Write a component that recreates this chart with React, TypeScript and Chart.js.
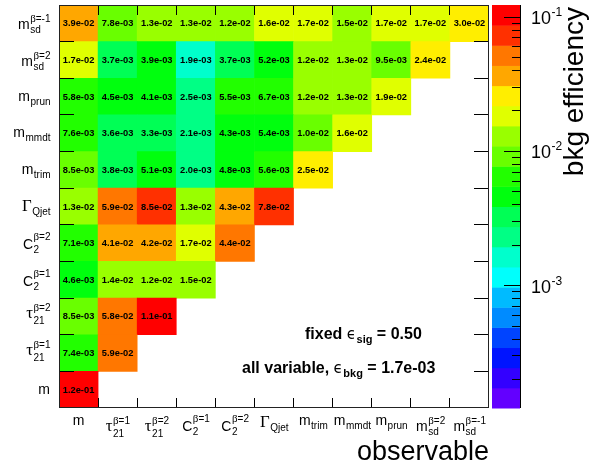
import React, { useEffect, useRef } from 'react';
import { Chart, registerables } from 'chart.js';

Chart.register(...registerables);

type Label = { base: string; sub?: string; sup?: string };

// observables (same order on both axes: x left->right, y bottom->top)
const OBSERVABLE_KEYS = ['m', 'tau21_b1', 'tau21_b2', 'C2_b1', 'C2_b2', 'GammaQjet', 'm_trim', 'm_mmdt', 'm_prun', 'm_sd_b2', 'm_sd_bm1'];
const OBSERVABLE_LABELS: Label[] = [
  { base: 'm' },
  { base: 'τ', sub: '21', sup: 'β=1' },
  { base: 'τ', sub: '21', sup: 'β=2' },
  { base: 'C', sub: '2', sup: 'β=1' },
  { base: 'C', sub: '2', sup: 'β=2' },
  { base: 'Γ', sub: 'Qjet' },
  { base: 'm', sub: 'trim' },
  { base: 'm', sub: 'mmdt' },
  { base: 'm', sub: 'prun' },
  { base: 'm', sub: 'sd', sup: 'β=2' },
  { base: 'm', sub: 'sd', sup: 'β=-1' },
];

// background efficiency, one array per row (y observable), columns 0..row
const EFF_M = [1.2e-1];
const EFF_TAU21_B1 = [7.4e-3, 5.9e-2];
const EFF_TAU21_B2 = [8.5e-3, 5.8e-2, 1.1e-1];
const EFF_C2_B1 = [4.6e-3, 1.4e-2, 1.2e-2, 1.5e-2];
const EFF_C2_B2 = [7.1e-3, 4.1e-2, 4.2e-2, 1.7e-2, 4.4e-2];
const EFF_GAMMA_QJET = [1.3e-2, 5.9e-2, 8.5e-2, 1.3e-2, 4.3e-2, 7.8e-2];
const EFF_M_TRIM = [8.5e-3, 3.8e-3, 5.1e-3, 2.0e-3, 4.8e-3, 5.6e-3, 2.5e-2];
const EFF_M_MMDT = [7.6e-3, 3.6e-3, 3.3e-3, 2.1e-3, 4.3e-3, 5.4e-3, 1.0e-2, 1.6e-2];
const EFF_M_PRUN = [5.8e-3, 4.5e-3, 4.1e-3, 2.5e-3, 5.5e-3, 6.7e-3, 1.2e-2, 1.3e-2, 1.9e-2];
const EFF_M_SD_B2 = [1.7e-2, 3.7e-3, 3.9e-3, 1.9e-3, 3.7e-3, 5.2e-3, 1.2e-2, 1.3e-2, 9.5e-3, 2.4e-2];
const EFF_M_SD_BM1 = [3.9e-2, 7.8e-3, 1.3e-2, 1.3e-2, 1.2e-2, 1.6e-2, 1.7e-2, 1.5e-2, 1.7e-2, 1.7e-2, 3.0e-2];

const ROWS = [EFF_M, EFF_TAU21_B1, EFF_TAU21_B2, EFF_C2_B1, EFF_C2_B2, EFF_GAMMA_QJET, EFF_M_TRIM, EFF_M_MMDT, EFF_M_PRUN, EFF_M_SD_B2, EFF_M_SD_BM1];

// colour scale
const Z_MAX = 0.123;
const Z_MIN = 1.23e-4;
const COLOR_TICKS = [1e-3, 1e-2, 1e-1];
const PALETTE = [
  'rgb(99,0,255)', 'rgb(51,0,255)', 'rgb(0,20,255)', 'rgb(0,68,255)', 'rgb(0,139,255)',
  'rgb(0,187,255)', 'rgb(0,255,252)', 'rgb(0,255,204)', 'rgb(0,255,133)', 'rgb(0,255,85)',
  'rgb(0,255,14)', 'rgb(34,255,0)', 'rgb(105,255,0)', 'rgb(153,255,0)', 'rgb(224,255,0)',
  'rgb(255,238,0)', 'rgb(255,167,0)', 'rgb(255,119,0)', 'rgb(255,48,0)', 'rgb(255,0,0)',
];

const X_TITLE = 'observable';
const Z_TITLE = 'bkg efficiency';
const SIG_EFF = '0.50';
const ALL_BKG_EFF = '1.7e-03';

const SANS = '"Liberation Sans", Arial, Helvetica, sans-serif';
const SERIF = '"Liberation Serif", "DejaVu Serif", serif';

function levelIndex(v: number) {
  const lmin = Math.log10(Z_MIN);
  const lmax = Math.log10(Z_MAX);
  const k = Math.floor(((Math.log10(v) - lmin) / (lmax - lmin)) * PALETTE.length);
  return Math.max(0, Math.min(PALETTE.length - 1, k));
}
const colorFor = (v: number) => PALETTE[levelIndex(v)];

function fmtExp(v: number) {
  const [m, e] = v.toExponential(1).split('e');
  const n = parseInt(e, 10);
  return `${m}e${n < 0 ? '-' : '+'}${String(Math.abs(n)).padStart(2, '0')}`;
}

function segs(text: string) {
  const out: { t: string; g: boolean }[] = [];
  for (const ch of text) {
    const g = /[\u0370-\u03FF]/.test(ch);
    if (out.length && out[out.length - 1].g === g) out[out.length - 1].t += ch;
    else out.push({ t: ch, g });
  }
  return out;
}
function fontStr(size: number, bold: boolean, greek: boolean) {
  return `${bold ? 'bold ' : ''}${size}px ${greek ? SERIF : SANS}`;
}
function measureMixed(ctx: CanvasRenderingContext2D, text: string, size: number, bold = false, gs = 1.1) {
  let w = 0;
  for (const s of segs(text)) {
    ctx.font = fontStr(s.g ? size * gs : size, s.g ? false : bold, s.g);
    w += ctx.measureText(s.t).width;
  }
  return w;
}
function drawMixed(ctx: CanvasRenderingContext2D, text: string, x: number, y: number, size: number, bold = false, gs = 1.1) {
  let cx = x;
  for (const s of segs(text)) {
    ctx.font = fontStr(s.g ? size * gs : size, s.g ? false : bold, s.g);
    ctx.fillText(s.t, cx, y);
    cx += ctx.measureText(s.t).width;
  }
  return cx - x;
}

const MAIN = 14;
const SMALL = 10;

function labelWidth(ctx: CanvasRenderingContext2D, l: Label) {
  const bw = measureMixed(ctx, l.base, MAIN, false, 1.2);
  const sw = l.sub ? measureMixed(ctx, l.sub, SMALL) : 0;
  const pw = l.sup ? measureMixed(ctx, l.sup, SMALL) : 0;
  return { bw, w: bw + Math.max(sw, pw) };
}
function drawLabel(ctx: CanvasRenderingContext2D, l: Label, x: number, baseline: number) {
  const bw = drawMixed(ctx, l.base, x, baseline, MAIN, false, 1.2);
  const cap = l.base === 'C' || l.base === 'Γ';
  const isTau = l.base === 'τ';
  if (l.sup) drawMixed(ctx, l.sup, x + bw + 0.5, baseline + (cap ? -9 : -7), SMALL);
  if (l.sub) drawMixed(ctx, l.sub, x + bw + 0.5, baseline + (isTau ? 6 : 4), SMALL);
}

const overlay = {
  id: 'overlay',
  afterDatasetsDraw(chart: any) {
    const ctx: CanvasRenderingContext2D = chart.ctx;
    const area = chart.chartArea;
    const xs = chart.scales.x;
    const ys = chart.scales.y;
    const zs = chart.scales.z;
    const n = OBSERVABLE_KEYS.length;
    ctx.save();

    // cell values
    ctx.fillStyle = '#000';
    ctx.textAlign = 'center';
    ctx.textBaseline = 'middle';
    ctx.font = `bold 9.3px ${SANS}`;
    chart.data.datasets.forEach((ds: any, i: number) => {
      const meta = chart.getDatasetMeta(i);
      meta.data.forEach((el: any, j: number) => {
        const p = el.getCenterPoint();
        ctx.fillText(fmtExp(ds.data[j].v), p.x, p.y + 0.5);
      });
    });

    // frame and ticks
    const colEdge = (c: number) =>
      c <= 0 ? area.left : c >= n ? area.right : (xs.getPixelForValue(c - 1) + xs.getPixelForValue(c)) / 2;
    ctx.strokeStyle = '#000';
    ctx.lineWidth = 1;
    ctx.beginPath();
    for (let c = 1; c < n; c++) {
      const X = Math.floor(colEdge(c)) + 0.5;
      ctx.moveTo(X, area.bottom);
      ctx.lineTo(X, area.bottom - 10);
      ctx.moveTo(X, area.top);
      ctx.lineTo(X, area.top + 10);
    }
    for (let r = 1; r < n; r++) {
      const Y = Math.floor(ys.getPixelForValue(r)) + 0.5;
      ctx.moveTo(area.left, Y);
      ctx.lineTo(area.left + 15, Y);
      ctx.moveTo(area.right, Y);
      ctx.lineTo(area.right - 15, Y);
    }
    ctx.stroke();
    ctx.strokeStyle = '#222';
    ctx.strokeRect(area.left + 0.5, area.top + 0.5, area.right - area.left - 1, area.bottom - area.top - 1);

    // axis labels
    ctx.fillStyle = '#000';
    ctx.textAlign = 'left';
    ctx.textBaseline = 'alphabetic';
    OBSERVABLE_LABELS.forEach((l, i) => {
      const { w } = labelWidth(ctx, l);
      const cx = xs.getPixelForValue(i);
      const xb = area.bottom + (l.sup ? 23 : l.base === 'Γ' ? 19 : 17);
      drawLabel(ctx, l, cx - w / 2, xb);
      const cy = (ys.getPixelForValue(i) + ys.getPixelForValue(i + 1)) / 2;
      const yb = cy + (l.base === 'τ' ? 2 : l.sup ? 6 : 4);
      drawLabel(ctx, l, area.left - 9 - w, yb);
    });

    // colour bar
    const bx0 = area.right + 3;
    const bx1 = area.right + 31;
    const lmin = Math.log10(Z_MIN);
    const lmax = Math.log10(Z_MAX);
    PALETTE.forEach((col, k) => {
      const v0 = Math.pow(10, lmin + ((lmax - lmin) * k) / PALETTE.length);
      const v1 = Math.pow(10, lmin + ((lmax - lmin) * (k + 1)) / PALETTE.length);
      const y0 = zs.getPixelForValue(v0);
      const y1 = zs.getPixelForValue(v1);
      ctx.fillStyle = col;
      ctx.fillRect(bx0, y1, bx1 - bx0, y0 - y1 + 0.5);
    });
    ctx.strokeStyle = '#000';
    ctx.beginPath();
    ctx.moveTo(bx1 + 0.5, area.top);
    ctx.lineTo(bx1 + 0.5, area.bottom);
    for (let d = Math.floor(lmin); d <= Math.ceil(lmax); d++) {
      for (let m = 1; m <= 9; m++) {
        const v = m * Math.pow(10, d);
        if (v < Z_MIN || v > Z_MAX) continue;
        const Y = Math.floor(zs.getPixelForValue(v)) + 0.5;
        ctx.moveTo(bx1, Y);
        ctx.lineTo(bx1 - (m === 1 ? 16 : 8), Y);
      }
    }
    ctx.stroke();
    ctx.fillStyle = '#000';
    COLOR_TICKS.forEach((t) => {
      const Y = zs.getPixelForValue(t);
      const e = Math.round(Math.log10(t));
      ctx.font = `18px ${SANS}`;
      ctx.fillText('10', bx1 + 11, Y + 7);
      const w10 = ctx.measureText('10').width;
      ctx.font = `12px ${SANS}`;
      ctx.fillText(String(e), bx1 + 11 + w10 + 0.5, Y - 1);
    });

    // titles
    ctx.font = `27px ${SANS}`;
    ctx.textAlign = 'right';
    ctx.fillText(X_TITLE, area.right, area.bottom + 52);
    ctx.save();
    ctx.font = `28px ${SANS}`;
    ctx.translate(bx1 + 63, area.top + 2);
    ctx.rotate(-Math.PI / 2);
    ctx.fillText(Z_TITLE, 0, 0);
    ctx.restore();

    // annotations
    ctx.textAlign = 'left';
    const line = (x: number, y: number, pre: string, sub: string, post: string) => {
      let cx = x;
      ctx.font = `bold 16px ${SANS}`;
      ctx.fillText(pre, cx, y);
      cx += ctx.measureText(pre).width;
      ctx.font = `15px "DejaVu Sans", sans-serif`;
      ctx.fillText('ϵ', cx, y);
      cx += ctx.measureText('ϵ').width + 0.5;
      ctx.font = `bold 11px ${SANS}`;
      ctx.fillText(sub, cx, y + 4);
      cx += ctx.measureText(sub).width;
      ctx.font = `bold 16px ${SANS}`;
      ctx.fillText(post, cx, y);
    };
    line(305, 339, 'fixed ', 'sig', ` = ${SIG_EFF}`);
    line(242, 373, 'all variable, ', 'bkg', ` = ${ALL_BKG_EFF}`);

    ctx.restore();
  },
};

export default function App() {
  const ref = useRef<HTMLCanvasElement | null>(null);
  useEffect(() => {
    if (!ref.current) return;
    const datasets = ROWS.map((vals, r) => ({
      label: OBSERVABLE_KEYS[r],
      data: vals.map((v, c) => ({ x: OBSERVABLE_KEYS[c], y: [r, r + 1], v })),
      backgroundColor: vals.map(colorFor),
      borderWidth: 0,
      barPercentage: 1,
      categoryPercentage: 1,
      stack: 'cells',
    }));
    const chart = new Chart(ref.current, {
      type: 'bar',
      data: { labels: OBSERVABLE_KEYS, datasets: datasets as any },
      options: {
        animation: false,
        responsive: false,
        devicePixelRatio: 1,
        events: [],
        layout: { padding: { left: 59, right: 103, top: 5, bottom: 62 } },
        plugins: { legend: { display: false }, tooltip: { enabled: false } },
        scales: {
          x: { type: 'category', stacked: true, display: false, offset: true },
          y: { type: 'linear', stacked: false, min: 0, max: ROWS.length, display: false },
          z: { type: 'logarithmic', min: Z_MIN, max: Z_MAX, display: false, position: 'right' },
        },
      } as any,
      plugins: [overlay as any],
    });
    return () => chart.destroy();
  }, []);
  return (
    <div style={{ position: 'absolute', left: 0, top: 0, width: 592, height: 470, background: '#fff' }}>
      <canvas ref={ref} width={592} height={470} style={{ display: 'block' }} />
    </div>
  );
}
